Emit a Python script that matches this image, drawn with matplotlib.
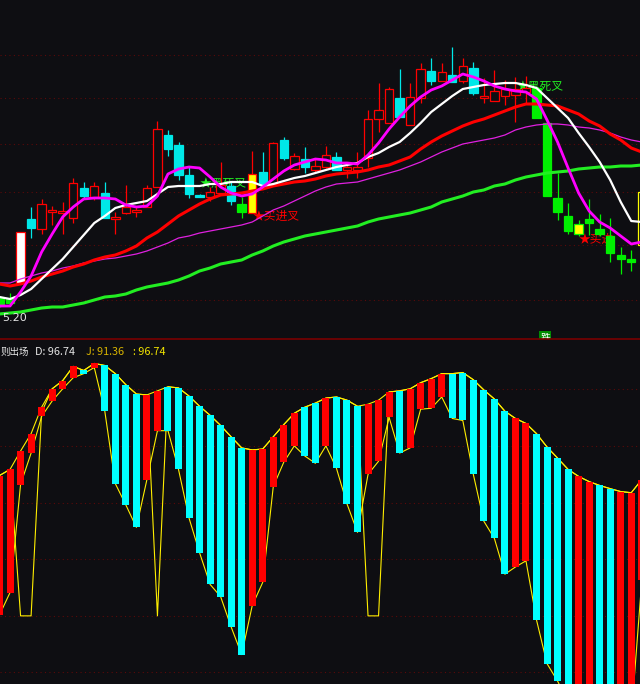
import matplotlib
matplotlib.use("Agg")
import matplotlib.pyplot as plt
import numpy as np

plt.rcParams['font.family'] = ['Noto Sans CJK SC', 'DejaVu Sans']

BG = '#0e0e12'
W, H = 640, 684

# ---- price panel (candles) ----
opens = [5.40, 5.39, 5.55, 6.19, 6.09, 6.26, 6.25, 6.20, 6.50, 6.41,
         6.45, 6.19, 6.25, 6.26, 6.31, 6.51, 7.03, 6.93, 6.63, 6.43,
         6.41, 6.45, 6.52, 6.34, 6.25, 6.66, 6.53, 6.98, 6.69, 6.79,
         6.68, 6.71, 6.81, 6.68, 6.68, 6.80, 7.19, 7.15, 7.40, 7.13,
         7.40, 7.67, 7.57, 7.63, 7.57, 7.70, 7.40, 7.37, 7.42, 7.43,
         7.46, 7.50, 7.15, 6.40, 6.22, 6.04, 6.19, 6.09, 6.02, 5.83,
         5.79, 5.93]
highs = [5.42, 5.45, 6.06, 6.31, 6.39, 6.32, 6.36, 6.60, 6.56, 6.56,
         6.56, 6.26, 6.53, 6.32, 6.53, 7.17, 7.08, 6.96, 6.72, 6.44,
         6.51, 6.76, 6.57, 6.41, 6.87, 6.86, 6.96, 7.01, 6.85, 6.91,
         6.80, 6.92, 6.86, 6.75, 6.86, 7.28, 7.55, 7.51, 7.69, 7.55,
         7.75, 7.80, 7.75, 7.91, 7.80, 7.76, 7.60, 7.68, 7.58, 7.61,
         7.62, 7.52, 7.16, 6.65, 6.35, 6.18, 6.39, 6.24, 6.20, 5.91,
         5.88, 6.46]
lows = [5.31, 5.32, 5.55, 6.00, 6.04, 6.13, 6.04, 6.15, 6.40, 6.38,
        6.20, 6.04, 6.24, 6.21, 6.31, 6.51, 6.82, 6.58, 6.40, 6.41,
        6.37, 6.45, 6.33, 6.20, 6.25, 6.54, 6.53, 6.78, 6.68, 6.65,
        6.66, 6.70, 6.68, 6.60, 6.60, 6.71, 7.06, 7.15, 7.21, 7.13,
        7.35, 7.53, 7.57, 7.56, 7.55, 7.43, 7.35, 7.37, 7.33, 7.16,
        7.35, 7.20, 6.42, 6.18, 6.04, 6.02, 6.03, 6.02, 5.76, 5.64,
        5.67, 5.93]
closes = [5.34, 5.35, 6.06, 6.10, 6.34, 6.28, 6.27, 6.55, 6.42, 6.52,
          6.20, 6.21, 6.31, 6.28, 6.50, 7.09, 6.89, 6.63, 6.44, 6.41,
          6.46, 6.53, 6.37, 6.26, 6.64, 6.54, 6.95, 6.80, 6.82, 6.71,
          6.72, 6.83, 6.68, 6.71, 6.71, 7.19, 7.28, 7.49, 7.21, 7.41,
          7.69, 7.57, 7.66, 7.56, 7.72, 7.45, 7.42, 7.47, 7.49, 7.49,
          7.50, 7.20, 6.42, 6.26, 6.07, 6.14, 6.15, 6.04, 5.85, 5.79,
          5.76, 6.46]
# r=red hollow, c=cyan, g=green, w=white, y=yellow, yg=yellow/green edge, yo=yellow hollow
kinds = ['g', 'g', 'w', 'c', 'r', 'r', 'r', 'r', 'c', 'r',
         'c', 'r', 'r', 'r', 'r', 'r', 'c', 'c', 'c', 'c',
         'r', 'r', 'c', 'g', 'y', 'c', 'r', 'c', 'r', 'c',
         'r', 'r', 'c', 'r', 'r', 'r', 'r', 'r', 'c', 'r',
         'r', 'c', 'r', 'c', 'r', 'c', 'r', 'r', 'r', 'r',
         'r', 'g', 'g', 'g', 'g', 'yg', 'g', 'g', 'g', 'g',
         'g', 'yo']

ma_white = [5.41, 5.39, 5.43, 5.49, 5.59, 5.69, 5.79, 5.91, 6.03, 6.15,
            6.22, 6.30, 6.33, 6.35, 6.37, 6.44, 6.51, 6.52, 6.52, 6.52,
            6.54, 6.54, 6.56, 6.56, 6.56, 6.52, 6.54, 6.57, 6.60, 6.62,
            6.65, 6.68, 6.71, 6.73, 6.75, 6.81, 6.85, 6.91, 6.96, 7.05,
            7.15, 7.26, 7.34, 7.42, 7.49, 7.51, 7.53, 7.54, 7.55, 7.55,
            7.53, 7.50, 7.40, 7.30, 7.20, 7.05, 6.91, 6.76, 6.58, 6.36,
            6.17, 6.16]
ma_pink = [5.32, 5.32, 5.46, 5.62, 5.86, 6.04, 6.21, 6.31, 6.39, 6.40,
           6.40, 6.39, 6.33, 6.31, 6.32, 6.42, 6.64, 6.69, 6.71, 6.70,
           6.61, 6.51, 6.45, 6.42, 6.44, 6.51, 6.59, 6.67, 6.73, 6.76,
           6.79, 6.78, 6.75, 6.75, 6.74, 6.83, 6.95, 7.09, 7.21, 7.32,
           7.41, 7.48, 7.52, 7.58, 7.64, 7.61, 7.57, 7.52, 7.49, 7.47,
           7.46, 7.39, 7.18, 6.96, 6.70, 6.45, 6.27, 6.16, 6.10, 6.02,
           5.94, 5.96]
ma_red = [5.54, 5.52, 5.54, 5.57, 5.61, 5.64, 5.67, 5.71, 5.74, 5.78,
          5.81, 5.83, 5.87, 5.92, 6.00, 6.06, 6.14, 6.22, 6.28, 6.34,
          6.39, 6.43, 6.44, 6.45, 6.47, 6.49, 6.52, 6.54, 6.56, 6.57,
          6.59, 6.62, 6.64, 6.65, 6.66, 6.68, 6.71, 6.73, 6.77, 6.81,
          6.89, 6.96, 7.02, 7.07, 7.12, 7.16, 7.19, 7.23, 7.27, 7.31,
          7.34, 7.34, 7.33, 7.32, 7.28, 7.24, 7.17, 7.12, 7.04, 6.98,
          6.90, 6.86]
ma_thin = [5.55, 5.55, 5.59, 5.62, 5.65, 5.67, 5.70, 5.72, 5.75, 5.77,
           5.79, 5.80, 5.82, 5.84, 5.87, 5.91, 5.95, 6.00, 6.02, 6.05,
           6.07, 6.09, 6.11, 6.13, 6.16, 6.22, 6.28, 6.32, 6.37, 6.42,
           6.47, 6.51, 6.54, 6.55, 6.56, 6.59, 6.62, 6.65, 6.68, 6.72,
           6.76, 6.81, 6.86, 6.90, 6.94, 6.96, 6.98, 7.00, 7.03, 7.08,
           7.11, 7.13, 7.14, 7.14, 7.13, 7.11, 7.10, 7.08, 7.05, 7.01,
           6.98, 6.96]
ma_green = [5.24, 5.25, 5.26, 5.28, 5.30, 5.31, 5.31, 5.33, 5.35, 5.38,
            5.41, 5.42, 5.44, 5.48, 5.51, 5.53, 5.55, 5.58, 5.62, 5.67,
            5.70, 5.74, 5.76, 5.78, 5.83, 5.87, 5.92, 5.96, 5.99, 6.02,
            6.04, 6.06, 6.08, 6.10, 6.12, 6.16, 6.19, 6.21, 6.23, 6.25,
            6.28, 6.31, 6.36, 6.39, 6.42, 6.46, 6.48, 6.52, 6.54, 6.58,
            6.61, 6.63, 6.65, 6.66, 6.67, 6.69, 6.70, 6.71, 6.71, 6.72,
            6.72, 6.73]
price_grid = [7.83, 7.40, 6.94, 6.46, 5.93, 5.38]

# ---- indicator panel ----
bar_top = [62.0, 64.7, 72.8, 80.5, 92.2, 100.3, 103.9, 110.2, 108.4, 111.5,
           110.6, 107.0, 102.1, 98.0, 97.6, 99.4, 101.2, 100.7, 97.1, 92.6,
           88.6, 84.1, 79.1, 74.2, 73.3, 73.7, 79.1, 84.5, 89.5, 92.2,
           94.0, 96.2, 96.7, 95.3, 92.6, 93.5, 95.3, 98.9, 99.4, 100.3,
           103.0, 104.8, 107.0, 107.0, 107.5, 104.3, 99.8, 95.8, 90.4, 87.2,
           85.0, 80.5, 74.6, 69.7, 64.7, 61.6, 59.3, 57.6, 56.2, 54.9,
           54.4, 60.2]
bar_bot = [0.4, 10.3, 58.0, 71.9, 88.1, 94.9, 100.3, 105.2, 107.0, 109.7,
           90.4, 58.4, 49.0, 39.1, 60.2, 81.8, 81.8, 64.7, 43.2, 27.9,
           13.9, 8.5, -4.9, -17.1, 4.5, 14.8, 57.1, 67.9, 75.1, 70.6,
           67.4, 75.1, 65.2, 49.5, 36.9, 62.5, 68.3, 87.7, 71.9, 74.2,
           91.3, 91.7, 96.7, 87.2, 86.3, 62.5, 41.8, 34.2, 18.4, 21.6,
           24.3, -1.8, -21.1, -28.8, -38.0, -42.0, -44.0, -45.0, -46.0, -46.0,
           -45.0, 15.7]
bar_col = ['r', 'r', 'r', 'r', 'r', 'r', 'r', 'r', 'c', 'r',
           'c', 'c', 'c', 'c', 'r', 'r', 'c', 'c', 'c', 'c',
           'c', 'c', 'c', 'c', 'r', 'r', 'r', 'r', 'r', 'c',
           'c', 'r', 'c', 'c', 'c', 'r', 'r', 'r', 'c', 'r',
           'r', 'r', 'r', 'c', 'c', 'c', 'c', 'c', 'c', 'r',
           'r', 'c', 'c', 'c', 'c', 'r', 'r', 'c', 'c', 'r',
           'r', 'r']
j_line = [62.0, 64.7, 0.0, 0.0, 90.0, 100.3, 103.9, 110.2, 108.4, 111.5,
          110.6, 107.0, 102.1, 98.0, 97.6, 0.0, 101.2, 100.7, 97.1, 92.6,
          88.6, 84.1, 79.1, 74.2, 73.3, 73.7, 79.1, 84.5, 89.5, 92.2,
          94.0, 96.2, 96.7, 95.3, 92.6, 0.0, 0.0, 98.9, 99.4, 100.3,
          103.0, 104.8, 107.0, 107.0, 107.5, 104.3, 99.8, 95.8, 90.4, 87.2,
          85.0, 80.5, 74.6, 69.7, 64.7, 61.6, 59.3, 57.6, 56.2, 54.9,
          54.4, 60.2]
osc_grid = [100, 75, 50, 25, 0, -25]

fig = plt.figure(figsize=(W / 100, H / 100), dpi=100, facecolor=BG)
ax1 = fig.add_axes([0, 1 - 345 / H, 1, 345 / H])
ax2 = fig.add_axes([0, 0, 1, 345 / H])
for ax in (ax1, ax2):
    ax.set_facecolor(BG)
    ax.set_xlim(0.047, 60.83)
    ax.set_xticks([])
    ax.set_yticks([])
    for s in ax.spines.values():
        s.set_visible(False)
ax1.set_ylim(4.93, 8.38)
ax2.set_ylim(-30.1, 122.3)
ax2.spines['top'].set_visible(True)
ax2.spines['top'].set_color('#7a0000')
ax2.spines['top'].set_linewidth(1.2)

grid_kw = dict(color='#5a0a0a', lw=0.8, ls=(0, (1, 3)), zorder=0)
for g in price_grid:
    ax1.axhline(g, **grid_kw)
for g in osc_grid:
    ax2.axhline(g, **grid_kw)

x = np.arange(len(opens))

# candles
styles = {'r': ('#ff0000', BG), 'c': ('#00e8e8', '#00e8e8'),
          'g': ('#00f000', '#00f000'), 'w': ('#ff0000', '#ffffff'),
          'y': ('#ff0000', '#ffff00'), 'yg': ('#00f000', '#ffff00'),
          'yo': ('#ffff00', BG)}
for i in x:
    o, h, l, c, k = opens[i], highs[i], lows[i], closes[i], kinds[i]
    edge, face = styles[k]
    top, bot = max(o, c), min(o, c)
    if face == BG:
        ax1.vlines(i, top, h, color=edge, lw=0.9, zorder=2)
        ax1.vlines(i, l, bot, color=edge, lw=0.9, zorder=2)
    else:
        ax1.vlines(i, l, h, color=edge, lw=0.9, zorder=2)
    ax1.bar(i, max(top - bot, 0.02), bottom=bot, width=0.8,
            facecolor=face, edgecolor=edge, lw=0.9, zorder=3)

ax1.plot(x, ma_green, color='#22ee22', lw=2.2, zorder=4)
ax1.plot(x, ma_thin, color='#e020e0', lw=0.9, zorder=4)
ax1.plot(x, ma_red, color='#ff0000', lw=2.2, zorder=4)
ax1.plot(x, ma_white, color='#ffffff', lw=1.6, zorder=5)
ax1.plot(x, ma_pink, color='#ff00ff', lw=2.0, zorder=5)

# signal texts
sig_kw = dict(fontsize=8.5, va='center', ha='left', zorder=1)
ax1.text(19.0, 6.55, '★黑死叉', color='#22ee22', **sig_kw)
ax1.text(24.0, 6.22, '★买进叉', color='#ff0000', **sig_kw)
ax1.text(49.15, 7.52, '★黑死叉', color='#22ee22', **sig_kw)
ax1.text(54.95, 5.99, '★买进', color='#ff0000', **sig_kw)

ax1.text(0.24, 5.20, '5.20', color='#e6e6e6', fontsize=8, va='center',
         ha='left', family='DejaVu Sans', zorder=6)
ax1.text(51.85, 5.005, '跌', color='white', fontsize=7, va='center',
         ha='center', zorder=6,
         bbox=dict(boxstyle='square,pad=0.12', fc='#008c00', ec='none'))

# indicator bars and lines
bar_colors = {'r': '#ff0000', 'c': '#00ffff'}
ax2.plot(x, j_line, color='#ffee00', lw=0.8, zorder=1)
ax2.plot(x, bar_bot, color='#ffee00', lw=0.8, zorder=1)
ax2.plot(x, bar_top, color='#ffee00', lw=0.8, zorder=1)
for i in x:
    ax2.bar(i, bar_top[i] - bar_bot[i], bottom=bar_bot[i], width=0.66,
            color=bar_colors[bar_col[i]], lw=0, zorder=2)

ty = 1 - 352 / H
fig.text(1 / W, ty, '则出场', color='#e6e6e6', fontsize=6.8, va='center')
fig.text(35 / W, ty, 'D: 96.74', color='#e6e6e6', fontsize=7.8, va='center')
fig.text(86 / W, ty, 'J: 91.36', color='#d8b400', fontsize=7.8, va='center')
fig.text(133 / W, ty, ': 96.74', color='#f2e400', fontsize=7.8, va='center')

fig.savefig('out.png', dpi=100, facecolor=BG)
